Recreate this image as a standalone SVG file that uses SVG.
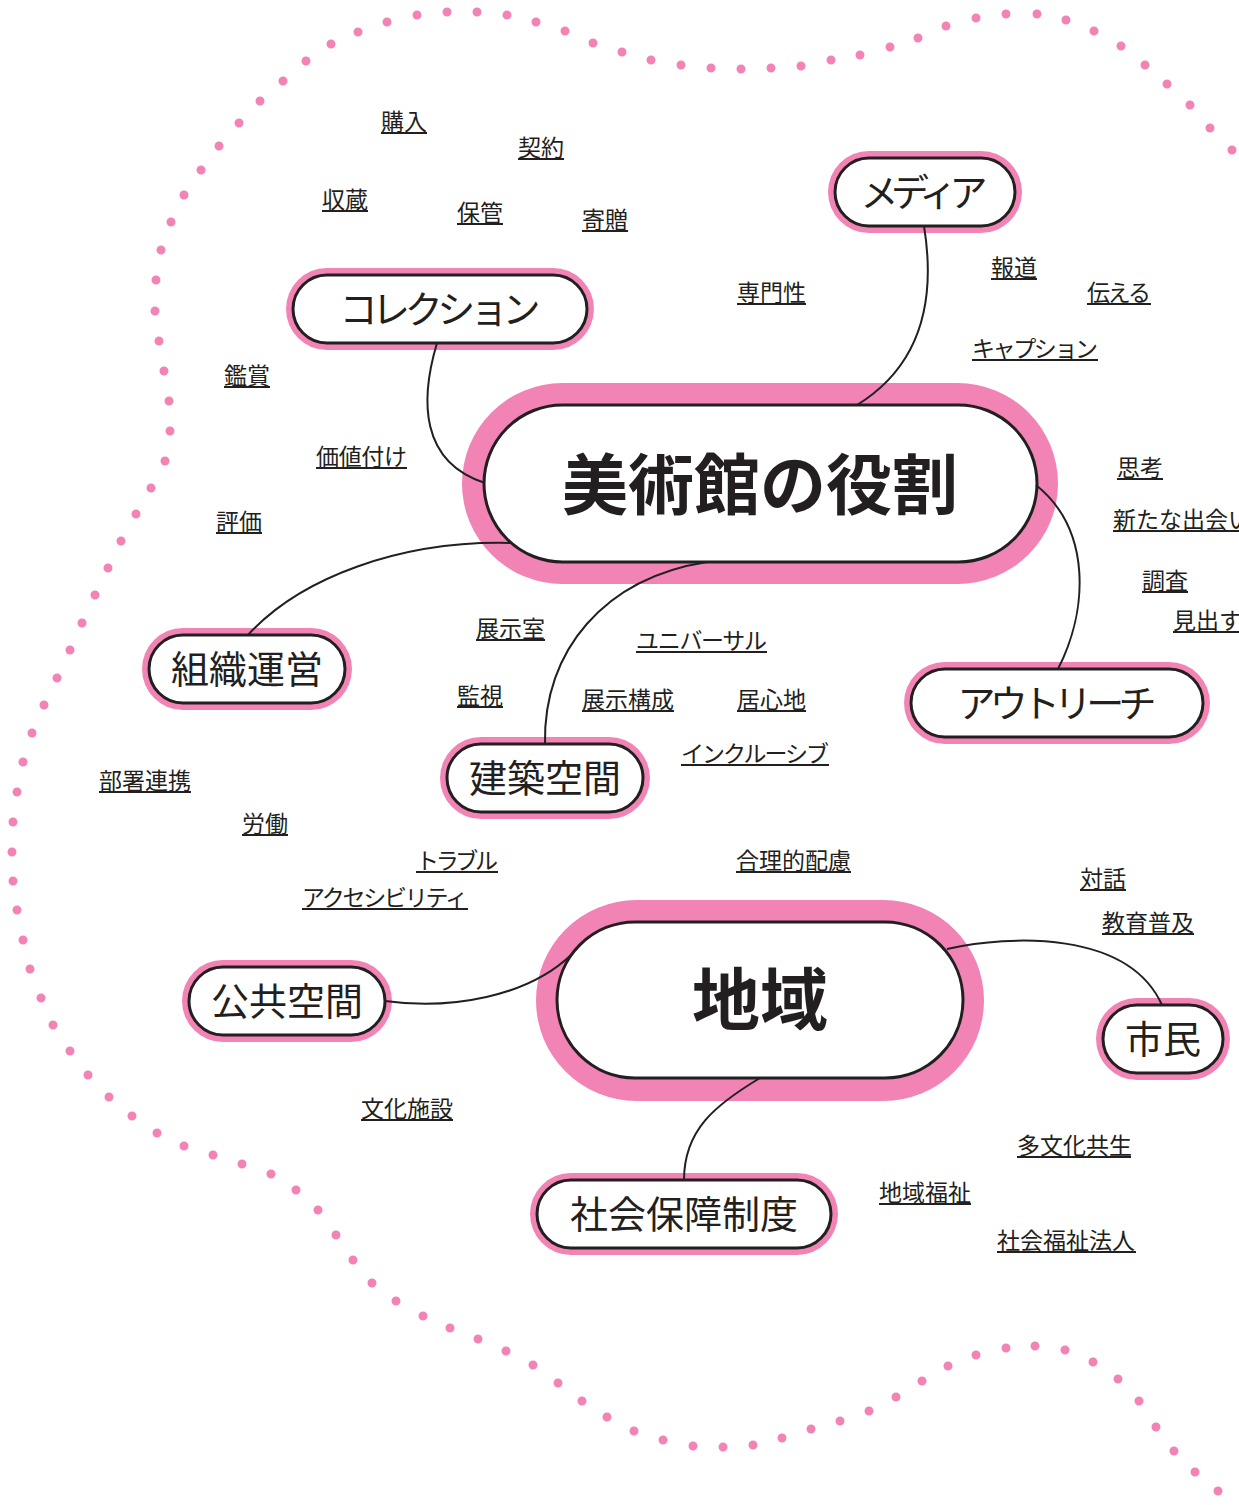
<svg xmlns="http://www.w3.org/2000/svg" width="1239" height="1505" viewBox="0 0 1239 1505">
<style>
text{font-family:"Noto Sans CJK JP","Noto Sans",sans-serif;fill:#231f20}
.lbl{font-size:23px}
.nt{font-size:38px;text-anchor:middle}
.ct{font-weight:700;text-anchor:middle}
.pink{fill:#f283b5}
.pill{fill:#fff;stroke:#231f20;stroke-width:3}
.ul{stroke:#231f20;stroke-width:2}
.conn path{fill:none;stroke:#231f20;stroke-width:2}
.dots{fill:none;stroke:#f283b5;stroke-width:9;stroke-linecap:round}
</style>
<rect width="1239" height="1505" fill="#fff"/>
<path class="dots" d="M1232,150h0M1210,128h0M1190,105h0M1167,84h0M1145,65h0M1121,46h0M1094,31h0M1066,20h0M1037,14h0M1006,14h0M976,18h0M946,26h0M918,38h0M890,47h0M860,55h0M831,60h0M801,66h0M771,68h0M741,69h0M711,68h0M681,65h0M651,60h0M622,52h0M593,43h0M565,31h0M536,22h0M507,15h0M477,12h0M447,12h0M417,15h0M387,22h0M358,32h0M331,44h0M306,61h0M283,81h0M260,101h0M239,123h0M219,146h0M201,170h0M184,195h0M171,222h0M161,250h0M156,280h0M155,311h0M159,341h0M164,371h0M169,401h0M170,431h0M165,461h0M151,488h0M136,514h0M121,541h0M108,568h0M95,595h0M82,623h0M70,650h0M57,678h0M44,705h0M32,733h0M23,762h0M17,792h0M13,822h0M12,852h0M13,881h0M17,910h0M23,940h0M30,969h0M41,998h0M53,1025h0M70,1051h0M88,1075h0M109,1097h0M132,1116h0M157,1133h0M184,1146h0M213,1155h0M242,1164h0M271,1174h0M296,1190h0M318,1210h0M336,1235h0M353,1260h0M372,1283h0M396,1301h0M423,1316h0M450,1328h0M478,1339h0M506,1351h0M533,1365h0M558,1383h0M582,1401h0M607,1417h0M634,1431h0M663,1440h0M693,1446h0M723,1447h0M753,1445h0M782,1438h0M811,1429h0M840,1421h0M869,1411h0M896,1397h0M922,1381h0M948,1366h0M976,1355h0M1006,1348h0M1035,1346h0M1065,1350h0M1093,1362h0M1118,1379h0M1139,1401h0M1156,1427h0M1174,1451h0M1195,1472h0M1218,1491h0"/>

<g id="node-center">
<rect class="pink" x="462" y="383" width="596" height="201" rx="100.5"/>
<rect class="pill" x="484" y="405" width="553" height="157" rx="78.5"/>
<text class="ct" x="760" y="509" font-size="66">美術館の役割</text>
</g>
<g id="node-chiiki">
<rect class="pink" x="536" y="900" width="448" height="201" rx="100.5"/>
<rect class="pill" x="557" y="922" width="406" height="156" rx="78"/>
<text class="ct" x="760" y="1025" font-size="68">地域</text>
</g>
<g id="node-collection">
<rect class="pink" x="286" y="268" width="308" height="82" rx="41"/>
<rect class="pill" x="293" y="275" width="294" height="68" rx="34"/>
<text class="nt" x="440" y="323" textLength="201" lengthAdjust="spacing">コレクション</text>
</g>
<g id="node-media">
<rect class="pink" x="828" y="151" width="194" height="82" rx="41"/>
<rect class="pill" x="835" y="158" width="180" height="68" rx="34"/>
<text class="nt" x="924" y="206" textLength="127" lengthAdjust="spacing">メディア</text>
</g>
<g id="node-soshiki">
<rect class="pink" x="142" y="628" width="210" height="82" rx="41"/>
<rect class="pill" x="149" y="635" width="196" height="68" rx="34"/>
<text class="nt" x="247" y="683">組織運営</text>
</g>
<g id="node-kenchiku">
<rect class="pink" x="440" y="737" width="210" height="82" rx="41"/>
<rect class="pill" x="447" y="744" width="196" height="68" rx="34"/>
<text class="nt" x="545" y="792">建築空間</text>
</g>
<g id="node-outreach">
<rect class="pink" x="904" y="662" width="306" height="82" rx="41"/>
<rect class="pill" x="911" y="669" width="292" height="68" rx="34"/>
<text class="nt" x="1057" y="717" textLength="199" lengthAdjust="spacing">アウトリーチ</text>
</g>
<g id="node-kokyo">
<rect class="pink" x="182" y="960" width="210" height="82" rx="41"/>
<rect class="pill" x="189" y="967" width="196" height="68" rx="34"/>
<text class="nt" x="287" y="1015">公共空間</text>
</g>
<g id="node-shimin">
<rect class="pink" x="1096" y="998" width="134" height="82" rx="41"/>
<rect class="pill" x="1103" y="1005" width="120" height="68" rx="34"/>
<text class="nt" x="1163" y="1053">市民</text>
</g>
<g id="node-shakai">
<rect class="pink" x="530" y="1173" width="308" height="82" rx="41"/>
<rect class="pill" x="537" y="1180" width="294" height="68" rx="34"/>
<text class="nt" x="684" y="1228">社会保障制度</text>
</g>

<g class="conn" id="connectors">
<path d="M437,343 C420,400 420,462 485,483"/>
<path d="M924,226 C936,300 922,365 857,405"/>
<path d="M248,635 C300,578 400,540 512,543"/>
<path d="M545,744 C543,650 605,578 707,562"/>
<path d="M1058,669 C1088,610 1092,530 1036,485"/>
<path d="M385,1001 C450,1010 528,997 572,954"/>
<path d="M947,949 C1010,935 1128,930 1162,1005"/>
<path d="M684,1180 C684,1130 715,1105 760,1078"/>
</g>

<g id="labels">
<g><text class="lbl" x="381" y="130">購入</text><line class="ul" x1="381" y1="133" x2="427" y2="133"/></g>
<g><text class="lbl" x="518" y="156">契約</text><line class="ul" x1="518" y1="159" x2="564" y2="159"/></g>
<g><text class="lbl" x="322" y="208">収蔵</text><line class="ul" x1="322" y1="211" x2="368" y2="211"/></g>
<g><text class="lbl" x="457" y="221">保管</text><line class="ul" x1="457" y1="224" x2="503" y2="224"/></g>
<g><text class="lbl" x="582" y="228">寄贈</text><line class="ul" x1="582" y1="231" x2="628" y2="231"/></g>
<g><text class="lbl" x="737" y="301">専門性</text><line class="ul" x1="737" y1="304" x2="806" y2="304"/></g>
<g><text class="lbl" x="991" y="276">報道</text><line class="ul" x1="991" y1="279" x2="1037" y2="279"/></g>
<g><text class="lbl" x="1087" y="301" textLength="64" lengthAdjust="spacing">伝える</text><line class="ul" x1="1087" y1="304" x2="1151" y2="304"/></g>
<g><text class="lbl" x="972" y="357" textLength="126" lengthAdjust="spacing">キャプション</text><line class="ul" x1="972" y1="360" x2="1098" y2="360"/></g>
<g><text class="lbl" x="224" y="384">鑑賞</text><line class="ul" x1="224" y1="387" x2="270" y2="387"/></g>
<g><text class="lbl" x="316" y="465" textLength="91" lengthAdjust="spacing">価値付け</text><line class="ul" x1="316" y1="468" x2="407" y2="468"/></g>
<g><text class="lbl" x="216" y="530">評価</text><line class="ul" x1="216" y1="533" x2="262" y2="533"/></g>
<g><text class="lbl" x="1117" y="476">思考</text><line class="ul" x1="1117" y1="479" x2="1163" y2="479"/></g>
<g><text class="lbl" x="1113" y="528">新たな出会い</text><line class="ul" x1="1113" y1="531" x2="1251" y2="531"/></g>
<g><text class="lbl" x="1142" y="589">調査</text><line class="ul" x1="1142" y1="592" x2="1188" y2="592"/></g>
<g><text class="lbl" x="1173" y="629">見出す</text><line class="ul" x1="1173" y1="632" x2="1242" y2="632"/></g>
<g><text class="lbl" x="476" y="637">展示室</text><line class="ul" x1="476" y1="640" x2="545" y2="640"/></g>
<g><text class="lbl" x="636" y="649" textLength="131" lengthAdjust="spacing">ユニバーサル</text><line class="ul" x1="636" y1="652" x2="767" y2="652"/></g>
<g><text class="lbl" x="457" y="704">監視</text><line class="ul" x1="457" y1="707" x2="503" y2="707"/></g>
<g><text class="lbl" x="582" y="708">展示構成</text><line class="ul" x1="582" y1="711" x2="674" y2="711"/></g>
<g><text class="lbl" x="737" y="708">居心地</text><line class="ul" x1="737" y1="711" x2="806" y2="711"/></g>
<g><text class="lbl" x="681" y="762" textLength="148" lengthAdjust="spacing">インクルーシブ</text><line class="ul" x1="681" y1="765" x2="829" y2="765"/></g>
<g><text class="lbl" x="99" y="789">部署連携</text><line class="ul" x1="99" y1="792" x2="191" y2="792"/></g>
<g><text class="lbl" x="242" y="832">労働</text><line class="ul" x1="242" y1="835" x2="288" y2="835"/></g>
<g><text class="lbl" x="416" y="869" textLength="82" lengthAdjust="spacing">トラブル</text><line class="ul" x1="416" y1="872" x2="498" y2="872"/></g>
<g><text class="lbl" x="736" y="869">合理的配慮</text><line class="ul" x1="736" y1="872" x2="851" y2="872"/></g>
<g><text class="lbl" x="302" y="906" textLength="166" lengthAdjust="spacing">アクセシビリティ</text><line class="ul" x1="302" y1="909" x2="468" y2="909"/></g>
<g><text class="lbl" x="1080" y="887">対話</text><line class="ul" x1="1080" y1="890" x2="1126" y2="890"/></g>
<g><text class="lbl" x="1102" y="931">教育普及</text><line class="ul" x1="1102" y1="934" x2="1194" y2="934"/></g>
<g><text class="lbl" x="361" y="1117">文化施設</text><line class="ul" x1="361" y1="1120" x2="453" y2="1120"/></g>
<g><text class="lbl" x="1017" y="1154">多文化共生</text><line class="ul" x1="1017" y1="1157" x2="1131" y2="1157"/></g>
<g><text class="lbl" x="879" y="1201">地域福祉</text><line class="ul" x1="879" y1="1204" x2="971" y2="1204"/></g>
<g><text class="lbl" x="997" y="1249">社会福祉法人</text><line class="ul" x1="997" y1="1252" x2="1136" y2="1252"/></g>
</g>
</svg>
